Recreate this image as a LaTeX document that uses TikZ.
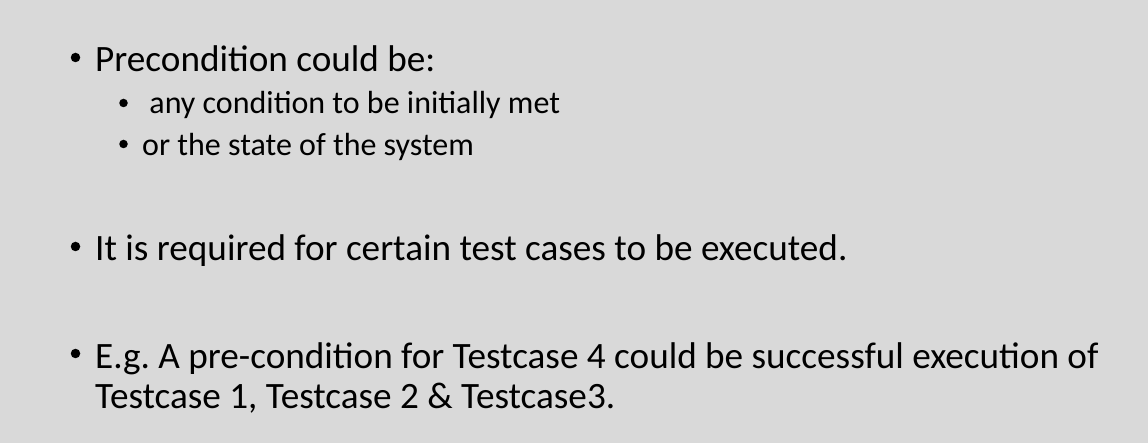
\documentclass[tikz,border=0pt]{standalone}
\usepackage{fontspec}
\setmainfont{Carlito}
\definecolor{slidegrey}{HTML}{D9D9D9}
\tikzset{
  mainline/.style={anchor=base west, inner sep=0pt, font=\fontsize{37.2}{44}\selectfont},
  subline/.style={anchor=base west, inner sep=0pt, font=\fontsize{32}{38}\selectfont},
  dot/.style={circle, fill=black, inner sep=0pt, minimum size=9.5pt},
}
\begin{document}
\frenchspacing
\begin{tikzpicture}[x=1pt,y=-1pt]
    % Slide background
    \fill[slidegrey] (0,0) rectangle (1148,443);
    \useasboundingbox (0,0) rectangle (1148,443);

    % First bullet
    \node[dot] (dotA) at (75.5,57.5) {};
    \node[mainline] (precond) at (95,72) {Precondition could be:};

    % Sub bullets
    \node[dot, minimum size=8.5pt] (dotAa) at (123.5,103) {};
    \node[subline] (anycond) at (142,114) {~any condition to be initially met};
    \node[dot, minimum size=8.5pt] (dotAb) at (123.5,144) {};
    \node[subline] (sysstate) at (142,155.5) {or the state of the system};

    % Second bullet
    \node[dot] (dotB) at (75.5,246.5) {};
    \node[mainline] (required) at (95,261) {It is required for certain test cases to be executed.};

    % Third bullet
    \node[dot] (dotC) at (75.5,353.5) {};
    \node[mainline] (example) at (95,368) {E.g. A pre-condition for Testcase 4 could be successful execution of};
    \node[mainline] (examplecont) at (95,408) {Testcase 1, Testcase 2 \& Testcase3.};
\end{tikzpicture}
\end{document}
